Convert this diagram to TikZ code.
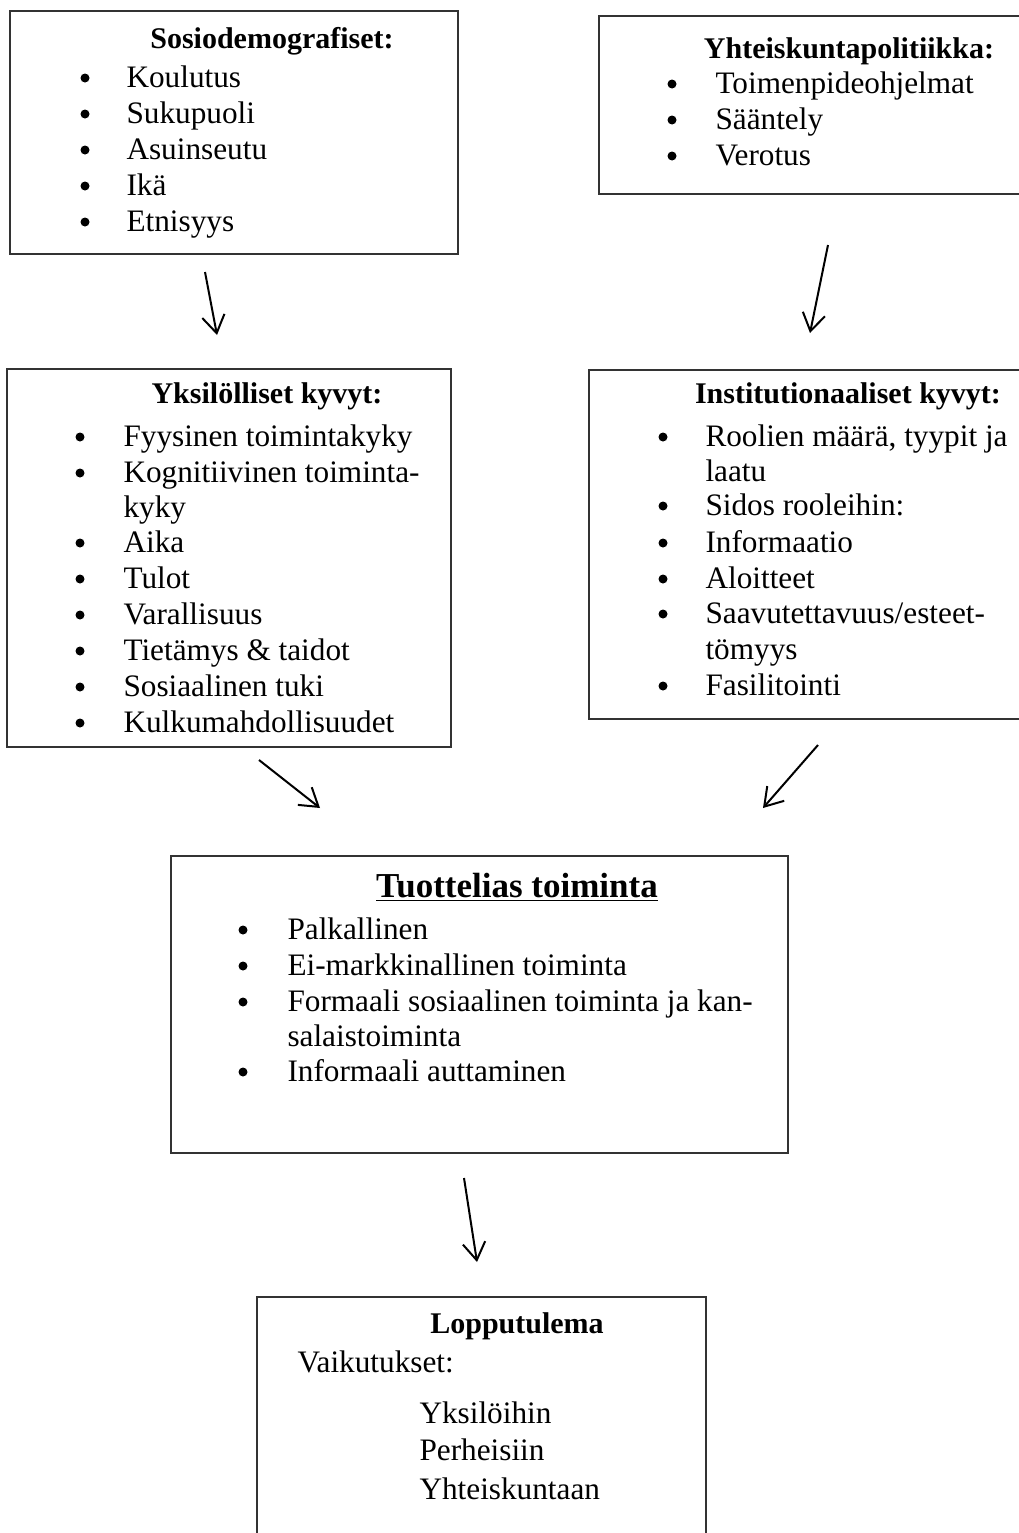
\documentclass[tikz,border=0pt]{standalone}
\usepackage{fontspec}
\setmainfont{Liberation Serif}
\usetikzlibrary{fit,arrows.meta}

\begin{document}
\begin{tikzpicture}[x=0.4pt,y=-0.4pt]
\tikzstyle{box}=[rectangle, inner sep=0mm, draw=black!80, line width=0.6pt]
\tikzstyle{head}=[anchor=base, inner sep=0mm, font=\fontsize{12}{14}\selectfont\bfseries]
\tikzstyle{item}=[anchor=base west, inner sep=0mm, font=\fontsize{12.5}{15}\selectfont]
\tikzstyle{dot}=[circle, fill=black, inner sep=0mm, minimum size=3.6pt]
\tikzstyle{connect}=[-{Straight Barb[length=7pt,width=9pt]}, line width=0.8pt]

\useasboundingbox (0,0) rectangle (1019,1533);

% boxes
\node[box, fit={(10,11) (458,254)}] (demo) {};
\node[box, fit={(599,16) (1040,194)}] (policy) {};
\node[box, fit={(7,369) (451,747)}] (indiv) {};
\node[box, fit={(589,370) (1040,719)}] (inst) {};
\node[box, fit={(171,856) (788,1153)}] (prod) {};
\node[box, fit={(257,1297) (706,1545)}] (outcome) {};

% Sosiodemografiset
\node[head] (demohead) at (272,48) {Sosiodemografiset:};
\foreach \y/\t [count=\i] in {87/Koulutus, 123/Sukupuoli, 159/Asuinseutu, 195/Ikä, 231/Etnisyys}{
  \node[dot] at (85,\y-9) {};
  \node[item] (demo\i) at (126,\y) {\t};
}

% Yhteiskuntapolitiikka
\node[head] (policyhead) at (849,58) {Yhteiskuntapolitiikka:};
\foreach \y/\t [count=\i] in {93/Toimenpideohjelmat, 129/Sääntely, 165/Verotus}{
  \node[dot] at (672,\y-9) {};
  \node[item] (policy\i) at (715,\y) {\t};
}

% Yksilolliset kyvyt
\node[head] (indivhead) at (267,403) {Yksilölliset kyvyt:};
\foreach \y/\t [count=\i] in {446/Fyysinen toimintakyky, 482/Kognitiivinen toiminta-, 552/Aika, 588/Tulot, 624/Varallisuus, 660/Tietämys \& taidot, 696/Sosiaalinen tuki, 732/Kulkumahdollisuudet}{
  \node[dot] at (80,\y-9) {};
  \node[item] (indiv\i) at (123,\y) {\t};
}
\node[item] (indiv2b) at (123,517) {kyky};

% Institutionaaliset kyvyt
\node[head] (insthead) at (848,403) {Institutionaaliset kyvyt:};
\foreach \y/\t [count=\i] in {446/{Roolien määrä, tyypit ja}, 515/Sidos rooleihin:, 552/Informaatio, 588/Aloitteet, 623/{Saavutettavuus/esteet-}, 695/Fasilitointi}{
  \node[dot] at (663,\y-9) {};
  \node[item] (inst\i) at (705,\y) {\t};
}
\node[item] (inst1b) at (705,481) {laatu};
\node[item] (inst5b) at (705,659) {tömyys};

% Tuottelias toiminta
\node[head, font=\fontsize{14}{17}\selectfont\bfseries] (prodhead) at (517,897) {\underline{Tuottelias toiminta}};
\foreach \y/\t [count=\i] in {939/Palkallinen, 975/Ei-markkinallinen toiminta, 1011/Formaali sosiaalinen toiminta ja kan-, 1081/Informaali auttaminen}{
  \node[dot] at (243,\y-9) {};
  \node[item] (prod\i) at (287,\y) {\t};
}
\node[item] (prod3b) at (287,1046) {salaistoiminta};

% Lopputulema
\node[head] (outhead) at (517,1333) {Lopputulema};
\node[item] (effects) at (297,1372) {Vaikutukset:};
\foreach \y/\t [count=\i] in {1423/Yksilöihin, 1460/Perheisiin, 1499/Yhteiskuntaan}{
  \node[item] (effect\i) at (419,\y) {\t};
}

% arrows
\coordinate (a1s) at (205,272);  \coordinate (a1e) at (217,335);
\coordinate (a2s) at (828,245);  \coordinate (a2e) at (810,333);
\coordinate (a3s) at (259,760);  \coordinate (a3e) at (320,808);
\coordinate (a4s) at (818,745);  \coordinate (a4e) at (763,808);
\coordinate (a5s) at (464,1178); \coordinate (a5e) at (477,1262);
\path (a1s) edge [connect] (a1e);
\path (a2s) edge [connect] (a2e);
\path (a3s) edge [connect] (a3e);
\path (a4s) edge [connect] (a4e);
\path (a5s) edge [connect] (a5e);
\end{tikzpicture}
\end{document}
